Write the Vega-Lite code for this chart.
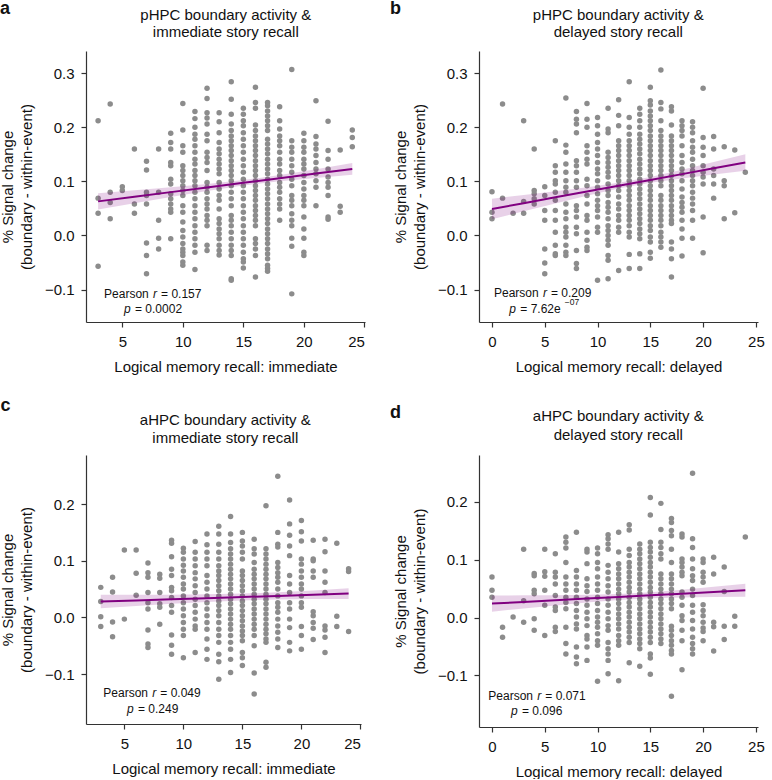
{
"$schema": "https://vega.github.io/schema/vega-lite/v6.json",
"padding": 0,
"background": "white",
"config": {
  "view": {"stroke": null},
  "font": "Liberation Sans",
  "axis": {"grid": false, "domainColor": "#333", "tickColor": "#333", "labelColor": "#111", "titleColor": "#111", "labelFontSize": 15, "titleFontSize": 15, "titleFontWeight": "normal", "tickSize": 5, "labelPadding": 7, "domainWidth": 1.2, "tickWidth": 1.2, "titlePadding": 10, "titleLineHeight": 19},
  "text": {"font": "Liberation Sans", "color": "#111"}
},
"datasets": {
"a": [
{"x":3,"y":0.212},{"x":3,"y":0.069},{"x":3,"y":0.041},{"x":3,"y":-0.057},
{"x":4,"y":0.243},{"x":4,"y":0.08},{"x":4,"y":0.061},{"x":4,"y":0.031},
{"x":5,"y":0.09},{"x":5,"y":0.083},
{"x":6,"y":0.16},{"x":6,"y":0.058},{"x":6,"y":0.041},
{"x":7,"y":0.137},{"x":7,"y":0.121},{"x":7,"y":0.08},{"x":7,"y":0.074},{"x":7,"y":0.058},{"x":7,"y":-0.014},{"x":7,"y":-0.037},{"x":7,"y":-0.071},
{"x":8,"y":0.16},{"x":8,"y":0.08},{"x":8,"y":0.028},{"x":8,"y":-0.005},{"x":8,"y":-0.025},
{"x":9,"y":0.189},{"x":9,"y":0.172},{"x":9,"y":0.16},{"x":9,"y":0.135},{"x":9,"y":0.129},{"x":9,"y":0.104},{"x":9,"y":0.095},{"x":9,"y":0.077},{"x":9,"y":0.068},{"x":9,"y":0.058},{"x":9,"y":0.049},{"x":9,"y":0.043},{"x":9,"y":-0.006},
{"x":10,"y":0.244},{"x":10,"y":0.195},{"x":10,"y":0.166},{"x":10,"y":0.154},{"x":10,"y":0.129},{"x":10,"y":0.12},{"x":10,"y":0.111},{"x":10,"y":0.101},{"x":10,"y":0.092},{"x":10,"y":0.083},{"x":10,"y":0.074},{"x":10,"y":0.055},{"x":10,"y":0.043},{"x":10,"y":0.025},{"x":10,"y":0.009},{"x":10,"y":-0.003},{"x":10,"y":-0.015},{"x":10,"y":-0.025},{"x":10,"y":-0.031},{"x":10,"y":-0.037},{"x":10,"y":-0.049},{"x":10,"y":-0.055},
{"x":11,"y":0.229},{"x":11,"y":0.216},{"x":11,"y":0.2},{"x":11,"y":0.187},{"x":11,"y":0.178},{"x":11,"y":0.166},{"x":11,"y":0.154},{"x":11,"y":0.141},{"x":11,"y":0.132},{"x":11,"y":0.12},{"x":11,"y":0.111},{"x":11,"y":0.101},{"x":11,"y":0.092},{"x":11,"y":0.08},{"x":11,"y":0.068},{"x":11,"y":0.055},{"x":11,"y":0.043},{"x":11,"y":0.031},{"x":11,"y":0.018},{"x":11,"y":0.006},{"x":11,"y":-0.006},{"x":11,"y":-0.018},{"x":11,"y":-0.031},{"x":11,"y":-0.063},
{"x":12,"y":0.272},{"x":12,"y":0.253},{"x":12,"y":0.227},{"x":12,"y":0.217},{"x":12,"y":0.206},{"x":12,"y":0.187},{"x":12,"y":0.175},{"x":12,"y":0.154},{"x":12,"y":0.144},{"x":12,"y":0.135},{"x":12,"y":0.12},{"x":12,"y":0.098},{"x":12,"y":0.089},{"x":12,"y":0.08},{"x":12,"y":0.068},{"x":12,"y":0.058},{"x":12,"y":0.049},{"x":12,"y":0.037},{"x":12,"y":0.028},{"x":12,"y":0.018},{"x":12,"y":-0.018},{"x":12,"y":-0.028},
{"x":13,"y":0.227},{"x":13,"y":0.21},{"x":13,"y":0.19},{"x":13,"y":0.172},{"x":13,"y":0.16},{"x":13,"y":0.151},{"x":13,"y":0.141},{"x":13,"y":0.132},{"x":13,"y":0.123},{"x":13,"y":0.114},{"x":13,"y":0.098},{"x":13,"y":0.086},{"x":13,"y":0.074},{"x":13,"y":0.065},{"x":13,"y":0.049},{"x":13,"y":0.031},{"x":13,"y":0.022},{"x":13,"y":0.012},{"x":13,"y":0.003},{"x":13,"y":-0.006},{"x":13,"y":-0.018},{"x":13,"y":-0.028},{"x":13,"y":-0.036},
{"x":14,"y":0.284},{"x":14,"y":0.252},{"x":14,"y":0.224},{"x":14,"y":0.206},{"x":14,"y":0.194},{"x":14,"y":0.184},{"x":14,"y":0.175},{"x":14,"y":0.166},{"x":14,"y":0.157},{"x":14,"y":0.148},{"x":14,"y":0.138},{"x":14,"y":0.129},{"x":14,"y":0.12},{"x":14,"y":0.111},{"x":14,"y":0.101},{"x":14,"y":0.092},{"x":14,"y":0.08},{"x":14,"y":0.068},{"x":14,"y":0.055},{"x":14,"y":0.037},{"x":14,"y":0.028},{"x":14,"y":0.018},{"x":14,"y":0.006},{"x":14,"y":-0.006},{"x":14,"y":-0.018},{"x":14,"y":-0.028},{"x":14,"y":-0.037},{"x":14,"y":-0.08},{"x":14,"y":-0.083},
{"x":15,"y":0.235},{"x":15,"y":0.224},{"x":15,"y":0.212},{"x":15,"y":0.203},{"x":15,"y":0.19},{"x":15,"y":0.178},{"x":15,"y":0.166},{"x":15,"y":0.154},{"x":15,"y":0.141},{"x":15,"y":0.129},{"x":15,"y":0.117},{"x":15,"y":0.104},{"x":15,"y":0.092},{"x":15,"y":0.08},{"x":15,"y":0.068},{"x":15,"y":0.055},{"x":15,"y":0.043},{"x":15,"y":0.031},{"x":15,"y":0.018},{"x":15,"y":0.006},{"x":15,"y":-0.006},{"x":15,"y":-0.018},{"x":15,"y":-0.031},{"x":15,"y":-0.043},{"x":15,"y":-0.049},{"x":15,"y":-0.06},
{"x":16,"y":0.274},{"x":16,"y":0.246},{"x":16,"y":0.235},{"x":16,"y":0.204},{"x":16,"y":0.194},{"x":16,"y":0.184},{"x":16,"y":0.175},{"x":16,"y":0.166},{"x":16,"y":0.157},{"x":16,"y":0.148},{"x":16,"y":0.138},{"x":16,"y":0.129},{"x":16,"y":0.12},{"x":16,"y":0.111},{"x":16,"y":0.101},{"x":16,"y":0.092},{"x":16,"y":0.083},{"x":16,"y":0.074},{"x":16,"y":0.065},{"x":16,"y":0.055},{"x":16,"y":0.046},{"x":16,"y":0.037},{"x":16,"y":0.028},{"x":16,"y":0.018},{"x":16,"y":-0.006},{"x":16,"y":-0.015},{"x":16,"y":-0.025},{"x":16,"y":-0.037},{"x":16,"y":-0.077},
{"x":17,"y":0.246},{"x":17,"y":0.24},{"x":17,"y":0.23},{"x":17,"y":0.221},{"x":17,"y":0.212},{"x":17,"y":0.203},{"x":17,"y":0.194},{"x":17,"y":0.178},{"x":17,"y":0.169},{"x":17,"y":0.16},{"x":17,"y":0.151},{"x":17,"y":0.141},{"x":17,"y":0.132},{"x":17,"y":0.123},{"x":17,"y":0.114},{"x":17,"y":0.104},{"x":17,"y":0.095},{"x":17,"y":0.086},{"x":17,"y":0.077},{"x":17,"y":0.068},{"x":17,"y":0.058},{"x":17,"y":0.049},{"x":17,"y":0.04},{"x":17,"y":0.031},{"x":17,"y":0.022},{"x":17,"y":0.012},{"x":17,"y":0.003},{"x":17,"y":-0.006},{"x":17,"y":-0.015},{"x":17,"y":-0.025},{"x":17,"y":-0.034},{"x":17,"y":-0.043},{"x":17,"y":-0.055},{"x":17,"y":-0.061},{"x":17,"y":-0.066},
{"x":18,"y":0.238},{"x":18,"y":0.212},{"x":18,"y":0.197},{"x":18,"y":0.184},{"x":18,"y":0.175},{"x":18,"y":0.166},{"x":18,"y":0.154},{"x":18,"y":0.141},{"x":18,"y":0.132},{"x":18,"y":0.12},{"x":18,"y":0.111},{"x":18,"y":0.098},{"x":18,"y":0.089},{"x":18,"y":0.08},{"x":18,"y":0.068},{"x":18,"y":0.058},{"x":18,"y":0.049},{"x":18,"y":0.028},
{"x":19,"y":0.307},{"x":19,"y":0.175},{"x":19,"y":0.163},{"x":19,"y":0.154},{"x":19,"y":0.141},{"x":19,"y":0.129},{"x":19,"y":0.117},{"x":19,"y":0.104},{"x":19,"y":0.092},{"x":19,"y":0.074},{"x":19,"y":0.065},{"x":19,"y":0.055},{"x":19,"y":0.04},{"x":19,"y":0.028},{"x":19,"y":0.018},{"x":19,"y":-0.005},{"x":19,"y":-0.02},{"x":19,"y":-0.108},
{"x":20,"y":0.189},{"x":20,"y":0.175},{"x":20,"y":0.163},{"x":20,"y":0.154},{"x":20,"y":0.141},{"x":20,"y":0.132},{"x":20,"y":0.123},{"x":20,"y":0.111},{"x":20,"y":0.098},{"x":20,"y":0.086},{"x":20,"y":0.074},{"x":20,"y":0.065},{"x":20,"y":0.055},{"x":20,"y":0.034},{"x":20,"y":0.012},{"x":20,"y":-0.005},{"x":20,"y":-0.031},{"x":20,"y":-0.037},
{"x":21,"y":0.249},{"x":21,"y":0.183},{"x":21,"y":0.169},{"x":21,"y":0.16},{"x":21,"y":0.148},{"x":21,"y":0.135},{"x":21,"y":0.123},{"x":21,"y":0.114},{"x":21,"y":0.101},{"x":21,"y":0.089},{"x":21,"y":0.055},
{"x":22,"y":0.211},{"x":22,"y":0.157},{"x":22,"y":0.141},{"x":22,"y":0.123},{"x":22,"y":0.108},{"x":22,"y":0.098},{"x":22,"y":0.089},{"x":22,"y":0.074},{"x":22,"y":0.034},{"x":22,"y":0.03},
{"x":23,"y":0.158},{"x":23,"y":0.054},{"x":23,"y":0.043},
{"x":24,"y":0.195},{"x":24,"y":0.181},{"x":24,"y":0.164}
],
"b": [
{"x":0,"y":0.081},{"x":0,"y":0.043},{"x":0,"y":0.031},
{"x":1,"y":0.243},{"x":1,"y":0.069},
{"x":2,"y":0.041},
{"x":3,"y":0.212},{"x":3,"y":0.063},{"x":3,"y":0.041},
{"x":4,"y":0.16},{"x":4,"y":0.083},{"x":4,"y":0.077},{"x":4,"y":0.068},{"x":4,"y":0.058},
{"x":5,"y":0.09},{"x":5,"y":0.074},{"x":5,"y":0.046},{"x":5,"y":0.028},{"x":5,"y":-0.025},{"x":5,"y":-0.051},{"x":5,"y":-0.071},
{"x":6,"y":0.175},{"x":6,"y":0.129},{"x":6,"y":0.117},{"x":6,"y":0.101},{"x":6,"y":0.095},{"x":6,"y":0.08},{"x":6,"y":0.065},{"x":6,"y":0.046},{"x":6,"y":0.028},{"x":6,"y":0.006},{"x":6,"y":-0.018},{"x":6,"y":-0.034},{"x":6,"y":-0.037},
{"x":7,"y":0.254},{"x":7,"y":0.167},{"x":7,"y":0.154},{"x":7,"y":0.132},{"x":7,"y":0.117},{"x":7,"y":0.101},{"x":7,"y":0.089},{"x":7,"y":0.08},{"x":7,"y":0.058},{"x":7,"y":0.043},{"x":7,"y":0.031},{"x":7,"y":0.015},{"x":7,"y":0.006},{"x":7,"y":-0.003},{"x":7,"y":-0.018},{"x":7,"y":-0.031},{"x":7,"y":-0.037},
{"x":8,"y":0.229},{"x":8,"y":0.215},{"x":8,"y":0.206},{"x":8,"y":0.19},{"x":8,"y":0.138},{"x":8,"y":0.129},{"x":8,"y":0.117},{"x":8,"y":0.101},{"x":8,"y":0.089},{"x":8,"y":0.055},{"x":8,"y":0.046},{"x":8,"y":0.034},{"x":8,"y":0.015},{"x":8,"y":0.003},{"x":8,"y":-0.028},{"x":8,"y":-0.052},{"x":8,"y":-0.061},
{"x":9,"y":0.244},{"x":9,"y":0.215},{"x":9,"y":0.2},{"x":9,"y":0.166},{"x":9,"y":0.154},{"x":9,"y":0.141},{"x":9,"y":0.132},{"x":9,"y":0.104},{"x":9,"y":0.092},{"x":9,"y":0.074},{"x":9,"y":0.058},{"x":9,"y":0.037},{"x":9,"y":0.028},{"x":9,"y":0.006},{"x":9,"y":-0.009},{"x":9,"y":-0.022},{"x":9,"y":-0.028},
{"x":10,"y":0.218},{"x":10,"y":0.203},{"x":10,"y":0.187},{"x":10,"y":0.172},{"x":10,"y":0.16},{"x":10,"y":0.148},{"x":10,"y":0.135},{"x":10,"y":0.123},{"x":10,"y":0.114},{"x":10,"y":0.101},{"x":10,"y":0.089},{"x":10,"y":0.077},{"x":10,"y":0.065},{"x":10,"y":0.055},{"x":10,"y":0.046},{"x":10,"y":0.034},{"x":10,"y":0.015},{"x":10,"y":0.006},{"x":10,"y":-0.083},
{"x":11,"y":0.235},{"x":11,"y":0.197},{"x":11,"y":0.19},{"x":11,"y":0.154},{"x":11,"y":0.144},{"x":11,"y":0.135},{"x":11,"y":0.126},{"x":11,"y":0.117},{"x":11,"y":0.108},{"x":11,"y":0.095},{"x":11,"y":0.083},{"x":11,"y":0.074},{"x":11,"y":0.061},{"x":11,"y":0.052},{"x":11,"y":0.043},{"x":11,"y":0.031},{"x":11,"y":0.018},{"x":11,"y":0.009},{"x":11,"y":0},{"x":11,"y":-0.009},{"x":11,"y":-0.018},{"x":11,"y":-0.037},{"x":11,"y":-0.046},{"x":11,"y":-0.08},
{"x":12,"y":0.251},{"x":12,"y":0.222},{"x":12,"y":0.203},{"x":12,"y":0.175},{"x":12,"y":0.166},{"x":12,"y":0.157},{"x":12,"y":0.148},{"x":12,"y":0.138},{"x":12,"y":0.129},{"x":12,"y":0.12},{"x":12,"y":0.111},{"x":12,"y":0.101},{"x":12,"y":0.092},{"x":12,"y":0.083},{"x":12,"y":0.071},{"x":12,"y":0.058},{"x":12,"y":0.049},{"x":12,"y":0.037},{"x":12,"y":0.028},{"x":12,"y":0.015},{"x":12,"y":0.006},{"x":12,"y":-0.065},
{"x":13,"y":0.284},{"x":13,"y":0.218},{"x":13,"y":0.2},{"x":13,"y":0.187},{"x":13,"y":0.175},{"x":13,"y":0.166},{"x":13,"y":0.157},{"x":13,"y":0.148},{"x":13,"y":0.138},{"x":13,"y":0.129},{"x":13,"y":0.12},{"x":13,"y":0.111},{"x":13,"y":0.101},{"x":13,"y":0.092},{"x":13,"y":0.083},{"x":13,"y":0.074},{"x":13,"y":0.065},{"x":13,"y":0.055},{"x":13,"y":0.046},{"x":13,"y":0.037},{"x":13,"y":0.028},{"x":13,"y":0.018},{"x":13,"y":0.006},{"x":13,"y":-0.003},{"x":13,"y":-0.035},{"x":13,"y":-0.061},
{"x":14,"y":0.235},{"x":14,"y":0.224},{"x":14,"y":0.212},{"x":14,"y":0.2},{"x":14,"y":0.187},{"x":14,"y":0.178},{"x":14,"y":0.169},{"x":14,"y":0.16},{"x":14,"y":0.151},{"x":14,"y":0.141},{"x":14,"y":0.132},{"x":14,"y":0.123},{"x":14,"y":0.114},{"x":14,"y":0.104},{"x":14,"y":0.095},{"x":14,"y":0.086},{"x":14,"y":0.077},{"x":14,"y":0.068},{"x":14,"y":0.058},{"x":14,"y":0.049},{"x":14,"y":0.04},{"x":14,"y":0.031},{"x":14,"y":0.022},{"x":14,"y":0.012},{"x":14,"y":0.003},{"x":14,"y":-0.006},{"x":14,"y":-0.034},{"x":14,"y":-0.061},
{"x":15,"y":0.274},{"x":15,"y":0.249},{"x":15,"y":0.241},{"x":15,"y":0.23},{"x":15,"y":0.221},{"x":15,"y":0.212},{"x":15,"y":0.203},{"x":15,"y":0.194},{"x":15,"y":0.184},{"x":15,"y":0.175},{"x":15,"y":0.166},{"x":15,"y":0.157},{"x":15,"y":0.148},{"x":15,"y":0.138},{"x":15,"y":0.129},{"x":15,"y":0.12},{"x":15,"y":0.111},{"x":15,"y":0.101},{"x":15,"y":0.092},{"x":15,"y":0.083},{"x":15,"y":0.074},{"x":15,"y":0.065},{"x":15,"y":0.055},{"x":15,"y":0.046},{"x":15,"y":0.037},{"x":15,"y":0.028},{"x":15,"y":0.018},{"x":15,"y":0.009},{"x":15,"y":-0.003},{"x":15,"y":-0.012},{"x":15,"y":-0.031},{"x":15,"y":-0.042},
{"x":16,"y":0.306},{"x":16,"y":0.246},{"x":16,"y":0.234},{"x":16,"y":0.212},{"x":16,"y":0.194},{"x":16,"y":0.184},{"x":16,"y":0.175},{"x":16,"y":0.166},{"x":16,"y":0.157},{"x":16,"y":0.148},{"x":16,"y":0.138},{"x":16,"y":0.129},{"x":16,"y":0.12},{"x":16,"y":0.111},{"x":16,"y":0.101},{"x":16,"y":0.092},{"x":16,"y":0.074},{"x":16,"y":0.065},{"x":16,"y":0.055},{"x":16,"y":0.046},{"x":16,"y":0.037},{"x":16,"y":0.028},{"x":16,"y":0.018},{"x":16,"y":0.006},{"x":16,"y":-0.003},{"x":16,"y":-0.012},{"x":16,"y":-0.022},
{"x":17,"y":0.238},{"x":17,"y":0.23},{"x":17,"y":0.204},{"x":17,"y":0.184},{"x":17,"y":0.175},{"x":17,"y":0.166},{"x":17,"y":0.157},{"x":17,"y":0.148},{"x":17,"y":0.138},{"x":17,"y":0.129},{"x":17,"y":0.12},{"x":17,"y":0.111},{"x":17,"y":0.101},{"x":17,"y":0.092},{"x":17,"y":0.083},{"x":17,"y":0.074},{"x":17,"y":0.065},{"x":17,"y":0.055},{"x":17,"y":0.046},{"x":17,"y":0.037},{"x":17,"y":0.028},{"x":17,"y":0.022},{"x":17,"y":-0.012},{"x":17,"y":-0.025},{"x":17,"y":-0.043},{"x":17,"y":-0.077},
{"x":18,"y":0.212},{"x":18,"y":0.203},{"x":18,"y":0.194},{"x":18,"y":0.184},{"x":18,"y":0.166},{"x":18,"y":0.148},{"x":18,"y":0.135},{"x":18,"y":0.123},{"x":18,"y":0.114},{"x":18,"y":0.101},{"x":18,"y":0.086},{"x":18,"y":0.071},{"x":18,"y":0.061},{"x":18,"y":0.052},{"x":18,"y":0.043},{"x":18,"y":0.028},{"x":18,"y":0.012},{"x":18,"y":-0.005},{"x":18,"y":-0.038},
{"x":19,"y":0.21},{"x":19,"y":0.2},{"x":19,"y":0.19},{"x":19,"y":0.175},{"x":19,"y":0.163},{"x":19,"y":0.154},{"x":19,"y":0.141},{"x":19,"y":0.129},{"x":19,"y":0.12},{"x":19,"y":0.111},{"x":19,"y":0.101},{"x":19,"y":0.092},{"x":19,"y":0.08},{"x":19,"y":0.069},{"x":19,"y":0.058},{"x":19,"y":0.046},{"x":19,"y":0.028},{"x":19,"y":-0.005},
{"x":20,"y":0.272},{"x":20,"y":0.181},{"x":20,"y":0.163},{"x":20,"y":0.148},{"x":20,"y":0.129},{"x":20,"y":0.117},{"x":20,"y":0.108},{"x":20,"y":0.095},{"x":20,"y":0.034},{"x":20,"y":-0.032},
{"x":21,"y":0.183},{"x":21,"y":0.16},{"x":21,"y":0.123},{"x":21,"y":0.111},{"x":21,"y":0.095},{"x":21,"y":0.069},
{"x":22,"y":0.164},{"x":22,"y":0.101},{"x":22,"y":0.092},{"x":22,"y":0.031},
{"x":23,"y":0.158},{"x":23,"y":0.042},
{"x":24,"y":0.117}
],
"c": [
{"x":3,"y":0.053},{"x":3,"y":0.028},{"x":3,"y":0.001},{"x":3,"y":-0.016},
{"x":4,"y":0.071},{"x":4,"y":0.045},{"x":4,"y":-0.008},{"x":4,"y":-0.034},
{"x":5,"y":0.119},{"x":5,"y":-0.003},
{"x":6,"y":0.119},{"x":6,"y":0.078},{"x":6,"y":0.039},
{"x":7,"y":0.096},{"x":7,"y":0.079},{"x":7,"y":0.071},{"x":7,"y":0.044},{"x":7,"y":0.026},{"x":7,"y":0.015},{"x":7,"y":-0.022},{"x":7,"y":-0.047},{"x":7,"y":-0.053},
{"x":8,"y":0.076},{"x":8,"y":0.069},{"x":8,"y":0.044},{"x":8,"y":0.024},{"x":8,"y":0.018},{"x":8,"y":-0.012},
{"x":9,"y":0.136},{"x":9,"y":0.131},{"x":9,"y":0.107},{"x":9,"y":0.085},{"x":9,"y":0.074},{"x":9,"y":0.053},{"x":9,"y":0.047},{"x":9,"y":0.035},{"x":9,"y":0.021},{"x":9,"y":0.009},{"x":9,"y":-0.031},{"x":9,"y":-0.049},{"x":9,"y":-0.065},
{"x":10,"y":0.122},{"x":10,"y":0.115},{"x":10,"y":0.103},{"x":10,"y":0.092},{"x":10,"y":0.082},{"x":10,"y":0.071},{"x":10,"y":0.059},{"x":10,"y":0.05},{"x":10,"y":0.038},{"x":10,"y":0.026},{"x":10,"y":0.015},{"x":10,"y":0.003},{"x":10,"y":-0.009},{"x":10,"y":-0.021},{"x":10,"y":-0.032},{"x":10,"y":-0.071},
{"x":11,"y":0.134},{"x":11,"y":0.115},{"x":11,"y":0.103},{"x":11,"y":0.091},{"x":11,"y":0.079},{"x":11,"y":0.068},{"x":11,"y":0.056},{"x":11,"y":0.044},{"x":11,"y":0.032},{"x":11,"y":0.021},{"x":11,"y":0.009},{"x":11,"y":-0.003},{"x":11,"y":-0.015},{"x":11,"y":-0.021},{"x":11,"y":-0.062},
{"x":12,"y":0.147},{"x":12,"y":0.128},{"x":12,"y":0.115},{"x":12,"y":0.103},{"x":12,"y":0.091},{"x":12,"y":0.074},{"x":12,"y":0.062},{"x":12,"y":0.05},{"x":12,"y":0.038},{"x":12,"y":0.026},{"x":12,"y":0.015},{"x":12,"y":0.003},{"x":12,"y":-0.009},{"x":12,"y":-0.021},{"x":12,"y":-0.038},{"x":12,"y":-0.056},{"x":12,"y":-0.074},
{"x":13,"y":0.161},{"x":13,"y":0.147},{"x":13,"y":0.129},{"x":13,"y":0.115},{"x":13,"y":0.103},{"x":13,"y":0.091},{"x":13,"y":0.082},{"x":13,"y":0.074},{"x":13,"y":0.065},{"x":13,"y":0.056},{"x":13,"y":0.047},{"x":13,"y":0.038},{"x":13,"y":0.029},{"x":13,"y":0.021},{"x":13,"y":0.012},{"x":13,"y":0.003},{"x":13,"y":-0.009},{"x":13,"y":-0.021},{"x":13,"y":-0.032},{"x":13,"y":-0.044},{"x":13,"y":-0.065},{"x":13,"y":-0.078},{"x":13,"y":-0.109},
{"x":14,"y":0.178},{"x":14,"y":0.147},{"x":14,"y":0.132},{"x":14,"y":0.121},{"x":14,"y":0.112},{"x":14,"y":0.103},{"x":14,"y":0.094},{"x":14,"y":0.085},{"x":14,"y":0.076},{"x":14,"y":0.068},{"x":14,"y":0.059},{"x":14,"y":0.05},{"x":14,"y":0.041},{"x":14,"y":0.032},{"x":14,"y":0.024},{"x":14,"y":0.015},{"x":14,"y":0.006},{"x":14,"y":-0.003},{"x":14,"y":-0.012},{"x":14,"y":-0.021},{"x":14,"y":-0.032},{"x":14,"y":-0.044},{"x":14,"y":-0.056},{"x":14,"y":-0.074},{"x":14,"y":-0.097},
{"x":15,"y":0.15},{"x":15,"y":0.135},{"x":15,"y":0.126},{"x":15,"y":0.115},{"x":15,"y":0.103},{"x":15,"y":0.082},{"x":15,"y":0.074},{"x":15,"y":0.065},{"x":15,"y":0.056},{"x":15,"y":0.047},{"x":15,"y":0.038},{"x":15,"y":0.029},{"x":15,"y":0.021},{"x":15,"y":0.012},{"x":15,"y":0.003},{"x":15,"y":-0.006},{"x":15,"y":-0.015},{"x":15,"y":-0.024},{"x":15,"y":-0.032},{"x":15,"y":-0.041},{"x":15,"y":-0.062},{"x":15,"y":-0.071},{"x":15,"y":-0.085},
{"x":16,"y":0.138},{"x":16,"y":0.121},{"x":16,"y":0.112},{"x":16,"y":0.097},{"x":16,"y":0.085},{"x":16,"y":0.076},{"x":16,"y":0.068},{"x":16,"y":0.059},{"x":16,"y":0.05},{"x":16,"y":0.041},{"x":16,"y":0.032},{"x":16,"y":0.024},{"x":16,"y":0.015},{"x":16,"y":0.006},{"x":16,"y":-0.003},{"x":16,"y":-0.012},{"x":16,"y":-0.021},{"x":16,"y":-0.032},{"x":16,"y":-0.05},{"x":16,"y":-0.098},{"x":16,"y":-0.135},
{"x":17,"y":0.197},{"x":17,"y":0.121},{"x":17,"y":0.112},{"x":17,"y":0.103},{"x":17,"y":0.094},{"x":17,"y":0.085},{"x":17,"y":0.076},{"x":17,"y":0.068},{"x":17,"y":0.059},{"x":17,"y":0.05},{"x":17,"y":0.041},{"x":17,"y":0.032},{"x":17,"y":0.024},{"x":17,"y":0.015},{"x":17,"y":0.006},{"x":17,"y":-0.003},{"x":17,"y":-0.012},{"x":17,"y":-0.021},{"x":17,"y":-0.029},{"x":17,"y":-0.038},{"x":17,"y":-0.044},{"x":17,"y":-0.079},{"x":17,"y":-0.088},
{"x":18,"y":0.249},{"x":18,"y":0.15},{"x":18,"y":0.129},{"x":18,"y":0.124},{"x":18,"y":0.097},{"x":18,"y":0.088},{"x":18,"y":0.079},{"x":18,"y":0.071},{"x":18,"y":0.062},{"x":18,"y":0.05},{"x":18,"y":0.038},{"x":18,"y":0.026},{"x":18,"y":0.018},{"x":18,"y":0.009},{"x":18,"y":-0.003},{"x":18,"y":-0.015},{"x":18,"y":-0.026},{"x":18,"y":-0.038},{"x":18,"y":-0.053},
{"x":19,"y":0.207},{"x":19,"y":0.165},{"x":19,"y":0.145},{"x":19,"y":0.126},{"x":19,"y":0.109},{"x":19,"y":0.074},{"x":19,"y":0.059},{"x":19,"y":0.044},{"x":19,"y":0.026},{"x":19,"y":0.015},{"x":19,"y":-0.003},{"x":19,"y":-0.018},{"x":19,"y":-0.044},{"x":19,"y":-0.059},
{"x":20,"y":0.171},{"x":20,"y":0.151},{"x":20,"y":0.135},{"x":20,"y":0.103},{"x":20,"y":0.094},{"x":20,"y":0.082},{"x":20,"y":0.071},{"x":20,"y":0.059},{"x":20,"y":0.05},{"x":20,"y":0.038},{"x":20,"y":0.026},{"x":20,"y":0.018},{"x":20,"y":-0.016},{"x":20,"y":-0.032},{"x":20,"y":-0.056},
{"x":21,"y":0.136},{"x":21,"y":0.103},{"x":21,"y":0.1},{"x":21,"y":0.082},{"x":21,"y":0.071},{"x":21,"y":0.01},{"x":21,"y":0.003},{"x":21,"y":-0.009},{"x":21,"y":-0.019},{"x":21,"y":-0.039},
{"x":22,"y":0.138},{"x":22,"y":0.116},{"x":22,"y":0.082},{"x":22,"y":0.062},{"x":22,"y":0.044},{"x":22,"y":-0.015},{"x":22,"y":-0.022},{"x":22,"y":-0.035},{"x":22,"y":-0.062},
{"x":23,"y":0.131},{"x":23,"y":0.002},{"x":23,"y":-0.016},
{"x":24,"y":0.086},{"x":24,"y":0.081},{"x":24,"y":-0.025}
],
"d": [
{"x":0,"y":0.07},{"x":0,"y":0.047},{"x":0,"y":0.035},
{"x":1,"y":-0.017},{"x":1,"y":-0.034},
{"x":2,"y":0.001},
{"x":3,"y":0.118},{"x":3,"y":0.029},{"x":3,"y":-0.008},
{"x":4,"y":0.076},{"x":4,"y":0.072},{"x":4,"y":0.047},{"x":4,"y":0.041},{"x":4,"y":-0.002},{"x":4,"y":-0.022},
{"x":5,"y":0.118},{"x":5,"y":0.079},{"x":5,"y":0.071},{"x":5,"y":0.047},{"x":5,"y":0.021},{"x":5,"y":-0.031},
{"x":6,"y":0.11},{"x":6,"y":0.078},{"x":6,"y":0.07},{"x":6,"y":0.058},{"x":6,"y":0.038},{"x":6,"y":0.018},{"x":6,"y":0.012},{"x":6,"y":-0.017},{"x":6,"y":-0.024},
{"x":7,"y":0.139},{"x":7,"y":0.13},{"x":7,"y":0.12},{"x":7,"y":0.095},{"x":7,"y":0.07},{"x":7,"y":0.058},{"x":7,"y":0.047},{"x":7,"y":0.035},{"x":7,"y":0.026},{"x":7,"y":0.015},{"x":7,"y":-0.017},{"x":7,"y":-0.045},{"x":7,"y":-0.063},
{"x":8,"y":0.147},{"x":8,"y":0.081},{"x":8,"y":0.07},{"x":8,"y":0.058},{"x":8,"y":0.047},{"x":8,"y":0.035},{"x":8,"y":0.024},{"x":8,"y":0.012},{"x":8,"y":0.001},{"x":8,"y":-0.011},{"x":8,"y":-0.02},{"x":8,"y":-0.051},{"x":8,"y":-0.068},{"x":8,"y":-0.08},
{"x":9,"y":0.118},{"x":9,"y":0.113},{"x":9,"y":0.093},{"x":9,"y":0.067},{"x":9,"y":0.055},{"x":9,"y":0.045},{"x":9,"y":0.032},{"x":9,"y":0.021},{"x":9,"y":0.009},{"x":9,"y":-0.002},{"x":9,"y":-0.014},{"x":9,"y":-0.031},{"x":9,"y":-0.037},{"x":9,"y":-0.051},{"x":9,"y":-0.074},
{"x":10,"y":0.12},{"x":10,"y":0.11},{"x":10,"y":0.095},{"x":10,"y":0.084},{"x":10,"y":0.07},{"x":10,"y":0.058},{"x":10,"y":0.047},{"x":10,"y":0.035},{"x":10,"y":0.024},{"x":10,"y":0.012},{"x":10,"y":0.001},{"x":10,"y":-0.008},{"x":10,"y":-0.017},{"x":10,"y":-0.028},{"x":10,"y":-0.04},{"x":10,"y":-0.048},{"x":10,"y":-0.11},
{"x":11,"y":0.143},{"x":11,"y":0.136},{"x":11,"y":0.127},{"x":11,"y":0.118},{"x":11,"y":0.09},{"x":11,"y":0.078},{"x":11,"y":0.067},{"x":11,"y":0.055},{"x":11,"y":0.044},{"x":11,"y":0.032},{"x":11,"y":0.021},{"x":11,"y":0.009},{"x":11,"y":-0.002},{"x":11,"y":-0.014},{"x":11,"y":-0.022},{"x":11,"y":-0.043},{"x":11,"y":-0.054},{"x":11,"y":-0.063},{"x":11,"y":-0.074},{"x":11,"y":-0.097},
{"x":12,"y":0.147},{"x":12,"y":0.113},{"x":12,"y":0.093},{"x":12,"y":0.084},{"x":12,"y":0.075},{"x":12,"y":0.067},{"x":12,"y":0.058},{"x":12,"y":0.049},{"x":12,"y":0.041},{"x":12,"y":0.032},{"x":12,"y":0.024},{"x":12,"y":0.015},{"x":12,"y":0.006},{"x":12,"y":-0.002},{"x":12,"y":-0.011},{"x":12,"y":-0.02},{"x":12,"y":-0.031},{"x":12,"y":-0.04},{"x":12,"y":-0.048},{"x":12,"y":-0.109},
{"x":13,"y":0.16},{"x":13,"y":0.151},{"x":13,"y":0.118},{"x":13,"y":0.107},{"x":13,"y":0.095},{"x":13,"y":0.087},{"x":13,"y":0.078},{"x":13,"y":0.07},{"x":13,"y":0.061},{"x":13,"y":0.052},{"x":13,"y":0.044},{"x":13,"y":0.035},{"x":13,"y":0.026},{"x":13,"y":0.018},{"x":13,"y":0.009},{"x":13,"y":0.001},{"x":13,"y":-0.008},{"x":13,"y":-0.017},{"x":13,"y":-0.025},{"x":13,"y":-0.034},{"x":13,"y":-0.043},{"x":13,"y":-0.078},
{"x":14,"y":0.127},{"x":14,"y":0.118},{"x":14,"y":0.11},{"x":14,"y":0.101},{"x":14,"y":0.093},{"x":14,"y":0.084},{"x":14,"y":0.075},{"x":14,"y":0.067},{"x":14,"y":0.058},{"x":14,"y":0.049},{"x":14,"y":0.041},{"x":14,"y":0.032},{"x":14,"y":0.024},{"x":14,"y":0.015},{"x":14,"y":0.006},{"x":14,"y":-0.002},{"x":14,"y":-0.011},{"x":14,"y":-0.02},{"x":14,"y":-0.028},{"x":14,"y":-0.037},{"x":14,"y":-0.045},{"x":14,"y":-0.054},{"x":14,"y":-0.084},
{"x":15,"y":0.207},{"x":15,"y":0.177},{"x":15,"y":0.13},{"x":15,"y":0.121},{"x":15,"y":0.113},{"x":15,"y":0.104},{"x":15,"y":0.095},{"x":15,"y":0.087},{"x":15,"y":0.078},{"x":15,"y":0.07},{"x":15,"y":0.061},{"x":15,"y":0.052},{"x":15,"y":0.044},{"x":15,"y":0.035},{"x":15,"y":0.026},{"x":15,"y":0.018},{"x":15,"y":0.009},{"x":15,"y":0.001},{"x":15,"y":-0.008},{"x":15,"y":-0.017},{"x":15,"y":-0.025},{"x":15,"y":-0.034},{"x":15,"y":-0.043},{"x":15,"y":-0.063},{"x":15,"y":-0.07},{"x":15,"y":-0.098},
{"x":16,"y":0.197},{"x":16,"y":0.152},{"x":16,"y":0.13},{"x":16,"y":0.121},{"x":16,"y":0.11},{"x":16,"y":0.101},{"x":16,"y":0.075},{"x":16,"y":0.067},{"x":16,"y":0.058},{"x":16,"y":0.049},{"x":16,"y":0.041},{"x":16,"y":0.032},{"x":16,"y":0.024},{"x":16,"y":0.015},{"x":16,"y":0.006},{"x":16,"y":-0.002},{"x":16,"y":-0.011},{"x":16,"y":-0.02},{"x":16,"y":-0.028},{"x":16,"y":-0.037},{"x":16,"y":-0.045},
{"x":17,"y":0.171},{"x":17,"y":0.164},{"x":17,"y":0.15},{"x":17,"y":0.141},{"x":17,"y":0.118},{"x":17,"y":0.095},{"x":17,"y":0.075},{"x":17,"y":0.067},{"x":17,"y":0.058},{"x":17,"y":0.049},{"x":17,"y":0.041},{"x":17,"y":0.032},{"x":17,"y":0.024},{"x":17,"y":0.015},{"x":17,"y":-0.015},{"x":17,"y":-0.022},{"x":17,"y":-0.031},{"x":17,"y":-0.04},{"x":17,"y":-0.048},{"x":17,"y":-0.057},{"x":17,"y":-0.063},{"x":17,"y":-0.136},
{"x":18,"y":0.144},{"x":18,"y":0.139},{"x":18,"y":0.101},{"x":18,"y":0.095},{"x":18,"y":0.087},{"x":18,"y":0.078},{"x":18,"y":0.072},{"x":18,"y":0.044},{"x":18,"y":0.035},{"x":18,"y":0.021},{"x":18,"y":0.003},{"x":18,"y":-0.005},{"x":18,"y":-0.022},{"x":18,"y":-0.04},{"x":18,"y":-0.09},
{"x":19,"y":0.249},{"x":19,"y":0.136},{"x":19,"y":0.121},{"x":19,"y":0.101},{"x":19,"y":0.084},{"x":19,"y":0.072},{"x":19,"y":0.064},{"x":19,"y":0.049},{"x":19,"y":0.038},{"x":19,"y":0.021},{"x":19,"y":0.009},{"x":19,"y":-0.005},{"x":19,"y":-0.02},{"x":19,"y":-0.034},{"x":19,"y":-0.045},{"x":19,"y":-0.054},{"x":19,"y":-0.063},
{"x":20,"y":0.101},{"x":20,"y":0.095},{"x":20,"y":0.078},{"x":20,"y":0.07},{"x":20,"y":0.061},{"x":20,"y":0.022},{"x":20,"y":0.012},{"x":20,"y":0.003},{"x":20,"y":-0.008},{"x":20,"y":-0.018},{"x":20,"y":-0.024},{"x":20,"y":-0.04},
{"x":21,"y":0.104},{"x":21,"y":0.075},{"x":21,"y":-0.008},{"x":21,"y":-0.016},{"x":21,"y":-0.058},
{"x":22,"y":0.087},{"x":22,"y":0.045},{"x":22,"y":-0.015},{"x":22,"y":-0.038},
{"x":23,"y":0.002},{"x":23,"y":-0.015},
{"x":24,"y":0.139}
],
"fa": [
{"x":3,"fit":0.063,"lo":0.048,"hi":0.078},{"x":6,"fit":0.0716,"lo":0.0597,"hi":0.0835},{"x":9,"fit":0.0801,"lo":0.0712,"hi":0.089},{"x":12,"fit":0.0887,"lo":0.0823,"hi":0.0951},{"x":15,"fit":0.0973,"lo":0.0923,"hi":0.1023},{"x":18,"fit":0.1059,"lo":0.1001,"hi":0.1117},{"x":21,"fit":0.1144,"lo":0.1064,"hi":0.1224},{"x":24,"fit":0.123,"lo":0.1122,"hi":0.1338}
],
"fb": [
{"x":0,"fit":0.049,"lo":0.03,"hi":0.068},{"x":3,"fit":0.0597,"lo":0.0446,"hi":0.0748},{"x":6,"fit":0.0705,"lo":0.0591,"hi":0.0819},{"x":9,"fit":0.0812,"lo":0.0733,"hi":0.0891},{"x":12,"fit":0.092,"lo":0.0866,"hi":0.0974},{"x":15,"fit":0.1027,"lo":0.0973,"hi":0.1081},{"x":18,"fit":0.1134,"lo":0.1055,"hi":0.1213},{"x":21,"fit":0.1242,"lo":0.1128,"hi":0.1356},{"x":24,"fit":0.1349,"lo":0.1198,"hi":0.15}
],
"fc": [
{"x":3,"fit":0.028,"lo":0.016,"hi":0.04},{"x":6,"fit":0.03,"lo":0.0201,"hi":0.0399},{"x":9,"fit":0.032,"lo":0.0239,"hi":0.0401},{"x":12,"fit":0.034,"lo":0.0273,"hi":0.0407},{"x":15,"fit":0.036,"lo":0.03,"hi":0.042},{"x":18,"fit":0.038,"lo":0.0317,"hi":0.0443},{"x":21,"fit":0.04,"lo":0.0325,"hi":0.0475},{"x":24,"fit":0.042,"lo":0.0327,"hi":0.0513}
],
"fd": [
{"x":0,"fit":0.024,"lo":0.01,"hi":0.038},{"x":3,"fit":0.0269,"lo":0.0156,"hi":0.0382},{"x":6,"fit":0.0297,"lo":0.0209,"hi":0.0385},{"x":9,"fit":0.0326,"lo":0.026,"hi":0.0392},{"x":12,"fit":0.0355,"lo":0.0303,"hi":0.0407},{"x":15,"fit":0.0384,"lo":0.0332,"hi":0.0436},{"x":18,"fit":0.0412,"lo":0.0346,"hi":0.0478},{"x":21,"fit":0.0441,"lo":0.0353,"hi":0.0529},{"x":24,"fit":0.047,"lo":0.0357,"hi":0.0583}
]
},
"vconcat": [
{"hconcat": [
{
 "width": 279, "height": 271,
 "layer": [
  {"data": {"name": "a"}, "mark": {"type": "circle", "size": 30, "color": "#8c8c8c", "opacity": 1},
   "encoding": {
    "x": {"field": "x", "type": "quantitative", "scale": {"domain": [2, 25.05], "nice": false, "zero": false}, "axis": {"title": "Logical memory recall: immediate", "values": [5, 10, 15, 20, 25]}},
    "y": {"field": "y", "type": "quantitative", "scale": {"domain": [-0.16, 0.341], "nice": false, "zero": false}, "axis": {"title": ["% Signal change", "(boundary - within-event)"], "values": [-0.1, 0, 0.1, 0.2, 0.3], "format": ".1f"}}}},
  {"data": {"name": "fa"}, "mark": {"type": "area", "color": "#800080", "opacity": 0.18},
   "encoding": {"x": {"field": "x", "type": "quantitative"}, "y": {"field": "lo", "type": "quantitative"}, "y2": {"field": "hi"}}},
  {"data": {"name": "fa"}, "mark": {"type": "line", "color": "#800080", "strokeWidth": 2},
   "encoding": {"x": {"field": "x", "type": "quantitative"}, "y": {"field": "fit", "type": "quantitative"}}},
  {"data": {"values": [{}]}, "mark": {"type": "text", "text": "a", "fontSize": 18, "fontWeight": "bold", "align": "left", "baseline": "alphabetic"},
   "encoding": {"x": {"datum": -5.1, "type": "quantitative"}, "y": {"datum": 0.4093, "type": "quantitative"}}},
  {"data": {"values": [{}]}, "mark": {"type": "text", "text": "pHPC boundary activity &", "fontSize": 15, "align": "center", "baseline": "middle"},
   "encoding": {"x": {"datum": 13.55, "type": "quantitative"}, "y": {"datum": 0.4074, "type": "quantitative"}}},
  {"data": {"values": [{}]}, "mark": {"type": "text", "text": "immediate story recall", "fontSize": 15, "align": "center", "baseline": "middle"},
   "encoding": {"x": {"datum": 13.55, "type": "quantitative"}, "y": {"datum": 0.376, "type": "quantitative"}}},
  {"data": {"values": [{}]}, "mark": {"type": "text", "text": "Pearson", "fontSize": 12, "align": "left", "baseline": "middle"},
   "encoding": {"x": {"datum": 3.49, "type": "quantitative"}, "y": {"datum": -0.1089, "type": "quantitative"}}},
  {"data": {"values": [{}]}, "mark": {"type": "text", "text": "r", "fontSize": 12, "fontStyle": "italic", "align": "left", "baseline": "middle", "dx": 49},
   "encoding": {"x": {"datum": 3.49, "type": "quantitative"}, "y": {"datum": -0.1089, "type": "quantitative"}}},
  {"data": {"values": [{}]}, "mark": {"type": "text", "text": "= 0.157", "fontSize": 12, "align": "left", "baseline": "middle", "dx": 57},
   "encoding": {"x": {"datum": 3.49, "type": "quantitative"}, "y": {"datum": -0.1089, "type": "quantitative"}}},
  {"data": {"values": [{}]}, "mark": {"type": "text", "text": "p", "fontSize": 12, "fontStyle": "italic", "align": "left", "baseline": "middle"},
   "encoding": {"x": {"datum": 5.14, "type": "quantitative"}, "y": {"datum": -0.1365, "type": "quantitative"}}},
  {"data": {"values": [{}]}, "mark": {"type": "text", "text": "= 0.0002", "fontSize": 12, "align": "left", "baseline": "middle", "dx": 11},
   "encoding": {"x": {"datum": 5.14, "type": "quantitative"}, "y": {"datum": -0.1365, "type": "quantitative"}}}
 ]
},
{
 "width": 279, "height": 271,
 "layer": [
  {"data": {"name": "b"}, "mark": {"type": "circle", "size": 30, "color": "#8c8c8c", "opacity": 1},
   "encoding": {
    "x": {"field": "x", "type": "quantitative", "scale": {"domain": [-1.23, 25.2], "nice": false, "zero": false}, "axis": {"title": "Logical memory recall: delayed", "values": [0, 5, 10, 15, 20, 25]}},
    "y": {"field": "y", "type": "quantitative", "scale": {"domain": [-0.16, 0.341], "nice": false, "zero": false}, "axis": {"title": ["% Signal change", "(boundary - within-event)"], "values": [-0.1, 0, 0.1, 0.2, 0.3], "format": ".1f"}}}},
  {"data": {"name": "fb"}, "mark": {"type": "area", "color": "#800080", "opacity": 0.18},
   "encoding": {"x": {"field": "x", "type": "quantitative"}, "y": {"field": "lo", "type": "quantitative"}, "y2": {"field": "hi"}}},
  {"data": {"name": "fb"}, "mark": {"type": "line", "color": "#800080", "strokeWidth": 2},
   "encoding": {"x": {"field": "x", "type": "quantitative"}, "y": {"field": "fit", "type": "quantitative"}}},
  {"data": {"values": [{}]}, "mark": {"type": "text", "text": "b", "fontSize": 18, "fontWeight": "bold", "align": "left", "baseline": "alphabetic"},
   "encoding": {"x": {"datum": -9.66, "type": "quantitative"}, "y": {"datum": 0.4093, "type": "quantitative"}}},
  {"data": {"values": [{}]}, "mark": {"type": "text", "text": "pHPC boundary activity &", "fontSize": 15, "align": "center", "baseline": "middle"},
   "encoding": {"x": {"datum": 11.96, "type": "quantitative"}, "y": {"datum": 0.4074, "type": "quantitative"}}},
  {"data": {"values": [{}]}, "mark": {"type": "text", "text": "delayed story recall", "fontSize": 15, "align": "center", "baseline": "middle"},
   "encoding": {"x": {"datum": 11.96, "type": "quantitative"}, "y": {"datum": 0.376, "type": "quantitative"}}},
  {"data": {"values": [{}]}, "mark": {"type": "text", "text": "Pearson", "fontSize": 12, "align": "left", "baseline": "middle"},
   "encoding": {"x": {"datum": 0.19, "type": "quantitative"}, "y": {"datum": -0.1063, "type": "quantitative"}}},
  {"data": {"values": [{}]}, "mark": {"type": "text", "text": "r", "fontSize": 12, "fontStyle": "italic", "align": "left", "baseline": "middle", "dx": 49},
   "encoding": {"x": {"datum": 0.19, "type": "quantitative"}, "y": {"datum": -0.1063, "type": "quantitative"}}},
  {"data": {"values": [{}]}, "mark": {"type": "text", "text": "= 0.209", "fontSize": 12, "align": "left", "baseline": "middle", "dx": 57},
   "encoding": {"x": {"datum": 0.19, "type": "quantitative"}, "y": {"datum": -0.1063, "type": "quantitative"}}},
  {"data": {"values": [{}]}, "mark": {"type": "text", "text": "p", "fontSize": 12, "fontStyle": "italic", "align": "left", "baseline": "middle"},
   "encoding": {"x": {"datum": 1.64, "type": "quantitative"}, "y": {"datum": -0.1365, "type": "quantitative"}}},
  {"data": {"values": [{}]}, "mark": {"type": "text", "text": "= 7.62e", "fontSize": 12, "align": "left", "baseline": "middle", "dx": 11},
   "encoding": {"x": {"datum": 1.64, "type": "quantitative"}, "y": {"datum": -0.1365, "type": "quantitative"}}},
  {"data": {"values": [{}]}, "mark": {"type": "text", "text": "−07", "fontSize": 8.5, "align": "left", "baseline": "middle", "dx": 55.5, "dy": -7},
   "encoding": {"x": {"datum": 1.64, "type": "quantitative"}, "y": {"datum": -0.1365, "type": "quantitative"}}}
 ]
}
], "spacing": 25},
{"hconcat": [
{
 "width": 275, "height": 269,
 "layer": [
  {"data": {"name": "c"}, "mark": {"type": "circle", "size": 30, "color": "#8c8c8c", "opacity": 1},
   "encoding": {
    "x": {"field": "x", "type": "quantitative", "scale": {"domain": [1.75, 25.05], "nice": false, "zero": false}, "axis": {"title": "Logical memory recall: immediate", "values": [5, 10, 15, 20, 25]}},
    "y": {"field": "y", "type": "quantitative", "scale": {"domain": [-0.188, 0.2865], "nice": false, "zero": false}, "axis": {"title": ["% Signal change", "(boundary - within-event)"], "values": [-0.1, 0, 0.1, 0.2], "format": ".1f"}}}},
  {"data": {"name": "fc"}, "mark": {"type": "area", "color": "#800080", "opacity": 0.18},
   "encoding": {"x": {"field": "x", "type": "quantitative"}, "y": {"field": "lo", "type": "quantitative"}, "y2": {"field": "hi"}}},
  {"data": {"name": "fc"}, "mark": {"type": "line", "color": "#800080", "strokeWidth": 2},
   "encoding": {"x": {"field": "x", "type": "quantitative"}, "y": {"field": "fit", "type": "quantitative"}}},
  {"data": {"values": [{}]}, "mark": {"type": "text", "text": "c", "fontSize": 18, "fontWeight": "bold", "align": "left", "baseline": "alphabetic"},
   "encoding": {"x": {"datum": -5.5, "type": "quantitative"}, "y": {"datum": 0.3647, "type": "quantitative"}}},
  {"data": {"values": [{}]}, "mark": {"type": "text", "text": "aHPC boundary activity &", "fontSize": 15, "align": "center", "baseline": "middle"},
   "encoding": {"x": {"datum": 13.55, "type": "quantitative"}, "y": {"datum": 0.3488, "type": "quantitative"}}},
  {"data": {"values": [{}]}, "mark": {"type": "text", "text": "immediate story recall", "fontSize": 15, "align": "center", "baseline": "middle"},
   "encoding": {"x": {"datum": 13.55, "type": "quantitative"}, "y": {"datum": 0.3165, "type": "quantitative"}}},
  {"data": {"values": [{}]}, "mark": {"type": "text", "text": "Pearson", "fontSize": 12, "align": "left", "baseline": "middle"},
   "encoding": {"x": {"datum": 3.22, "type": "quantitative"}, "y": {"datum": -0.1341, "type": "quantitative"}}},
  {"data": {"values": [{}]}, "mark": {"type": "text", "text": "r", "fontSize": 12, "fontStyle": "italic", "align": "left", "baseline": "middle", "dx": 49},
   "encoding": {"x": {"datum": 3.22, "type": "quantitative"}, "y": {"datum": -0.1341, "type": "quantitative"}}},
  {"data": {"values": [{}]}, "mark": {"type": "text", "text": "= 0.049", "fontSize": 12, "align": "left", "baseline": "middle", "dx": 57},
   "encoding": {"x": {"datum": 3.22, "type": "quantitative"}, "y": {"datum": -0.1341, "type": "quantitative"}}},
  {"data": {"values": [{}]}, "mark": {"type": "text", "text": "p", "fontSize": 12, "fontStyle": "italic", "align": "left", "baseline": "middle"},
   "encoding": {"x": {"datum": 5.22, "type": "quantitative"}, "y": {"datum": -0.1618, "type": "quantitative"}}},
  {"data": {"values": [{}]}, "mark": {"type": "text", "text": "= 0.249", "fontSize": 12, "align": "left", "baseline": "middle", "dx": 11},
   "encoding": {"x": {"datum": 5.22, "type": "quantitative"}, "y": {"datum": -0.1618, "type": "quantitative"}}}
 ]
},
{
 "width": 279, "height": 272,
 "layer": [
  {"data": {"name": "d"}, "mark": {"type": "circle", "size": 30, "color": "#8c8c8c", "opacity": 1},
   "encoding": {
    "x": {"field": "x", "type": "quantitative", "scale": {"domain": [-1.23, 25.2], "nice": false, "zero": false}, "axis": {"title": "Logical memory recall: delayed", "values": [0, 5, 10, 15, 20, 25]}},
    "y": {"field": "y", "type": "quantitative", "scale": {"domain": [-0.189, 0.2805], "nice": false, "zero": false}, "axis": {"title": ["% Signal change", "(boundary - within-event)"], "values": [-0.1, 0, 0.1, 0.2], "format": ".1f"}}}},
  {"data": {"name": "fd"}, "mark": {"type": "area", "color": "#800080", "opacity": 0.18},
   "encoding": {"x": {"field": "x", "type": "quantitative"}, "y": {"field": "lo", "type": "quantitative"}, "y2": {"field": "hi"}}},
  {"data": {"name": "fd"}, "mark": {"type": "line", "color": "#800080", "strokeWidth": 2},
   "encoding": {"x": {"field": "x", "type": "quantitative"}, "y": {"field": "fit", "type": "quantitative"}}},
  {"data": {"values": [{}]}, "mark": {"type": "text", "text": "d", "fontSize": 18, "fontWeight": "bold", "align": "left", "baseline": "alphabetic"},
   "encoding": {"x": {"datum": -9.66, "type": "quantitative"}, "y": {"datum": 0.3438, "type": "quantitative"}}},
  {"data": {"values": [{}]}, "mark": {"type": "text", "text": "aHPC boundary activity &", "fontSize": 15, "align": "center", "baseline": "middle"},
   "encoding": {"x": {"datum": 11.96, "type": "quantitative"}, "y": {"datum": 0.3472, "type": "quantitative"}}},
  {"data": {"values": [{}]}, "mark": {"type": "text", "text": "delayed story recall", "fontSize": 15, "align": "center", "baseline": "middle"},
   "encoding": {"x": {"datum": 11.96, "type": "quantitative"}, "y": {"datum": 0.3155, "type": "quantitative"}}},
  {"data": {"values": [{}]}, "mark": {"type": "text", "text": "Pearson", "fontSize": 12, "align": "left", "baseline": "middle"},
   "encoding": {"x": {"datum": -0.35, "type": "quantitative"}, "y": {"datum": -0.1355, "type": "quantitative"}}},
  {"data": {"values": [{}]}, "mark": {"type": "text", "text": "r", "fontSize": 12, "fontStyle": "italic", "align": "left", "baseline": "middle", "dx": 49},
   "encoding": {"x": {"datum": -0.35, "type": "quantitative"}, "y": {"datum": -0.1355, "type": "quantitative"}}},
  {"data": {"values": [{}]}, "mark": {"type": "text", "text": "= 0.071", "fontSize": 12, "align": "left", "baseline": "middle", "dx": 57},
   "encoding": {"x": {"datum": -0.35, "type": "quantitative"}, "y": {"datum": -0.1355, "type": "quantitative"}}},
  {"data": {"values": [{}]}, "mark": {"type": "text", "text": "p", "fontSize": 12, "fontStyle": "italic", "align": "left", "baseline": "middle"},
   "encoding": {"x": {"datum": 1.8, "type": "quantitative"}, "y": {"datum": -0.162, "type": "quantitative"}}},
  {"data": {"values": [{}]}, "mark": {"type": "text", "text": "= 0.096", "fontSize": 12, "align": "left", "baseline": "middle", "dx": 11},
   "encoding": {"x": {"datum": 1.8, "type": "quantitative"}, "y": {"datum": -0.162, "type": "quantitative"}}}
 ]
}
], "spacing": 29}
],
"spacing": 22
}
